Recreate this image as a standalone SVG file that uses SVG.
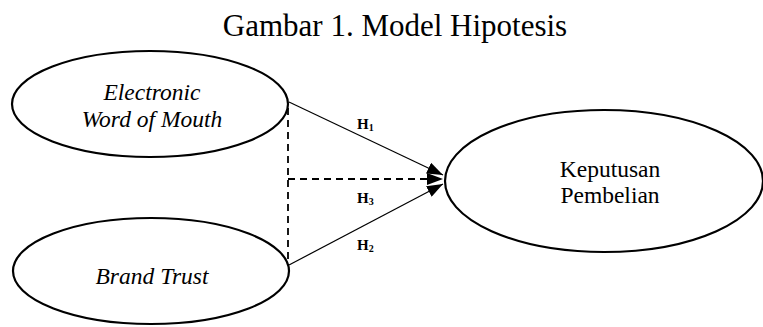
<svg xmlns="http://www.w3.org/2000/svg" width="763" height="327" viewBox="0 0 763 327">
<style>
.node ellipse{fill:#fff;stroke:#000;stroke-width:2.2}
text{font-family:"Liberation Serif","Times New Roman",serif;fill:#000}
.it{font-style:italic}
.lbl{font-weight:bold;font-size:15px}
.sub{font-size:10px}
.edge{stroke:#000;stroke-width:1.2;fill:none}
.dash{stroke-dasharray:7,5;stroke-width:1.8}
</style>
<defs>
<marker id="ah" viewBox="0 0 16 12" refX="16" refY="6" markerWidth="16" markerHeight="12" markerUnits="userSpaceOnUse" orient="auto">
<path d="M0,0 L16,6 L0,12 Z" fill="#000"/>
</marker>
</defs>
<rect width="763" height="327" fill="#fff"/>
<text x="395" y="36" font-size="31" text-anchor="middle">Gambar 1. Model Hipotesis</text>
<g id="connectors">
<line class="edge dash" x1="288" y1="108" x2="288" y2="265"/>
<line class="edge" x1="289" y1="102" x2="443" y2="175" marker-end="url(#ah)"/>
<line class="edge dash" x1="288" y1="179" x2="443" y2="179" marker-end="url(#ah)"/>
<line class="edge" x1="289" y1="265" x2="443" y2="184" marker-end="url(#ah)"/>
<text class="lbl" x="357" y="129">H<tspan class="sub" dy="2">1</tspan></text>
<text class="lbl" x="357" y="203">H<tspan class="sub" dy="2">3</tspan></text>
<text class="lbl" x="357" y="250">H<tspan class="sub" dy="2">2</tspan></text>
</g>
<g id="ewom" class="node">
<ellipse cx="150" cy="104" rx="138" ry="53"/>
<text class="it" x="152" y="100" font-size="23.5" text-anchor="middle">Electronic</text>
<text class="it" x="152" y="127" font-size="23.5" text-anchor="middle">Word of Mouth</text>
</g>
<g id="brandtrust" class="node">
<ellipse cx="151" cy="271" rx="138" ry="53"/>
<text class="it" x="152" y="284" font-size="23.5" text-anchor="middle">Brand Trust</text>
</g>
<g id="keputusan" class="node">
<ellipse cx="604" cy="181" rx="159" ry="71"/>
<text x="610" y="177" font-size="23.5" text-anchor="middle">Keputusan</text>
<text x="610" y="203" font-size="23.5" text-anchor="middle">Pembelian</text>
</g>
</svg>
